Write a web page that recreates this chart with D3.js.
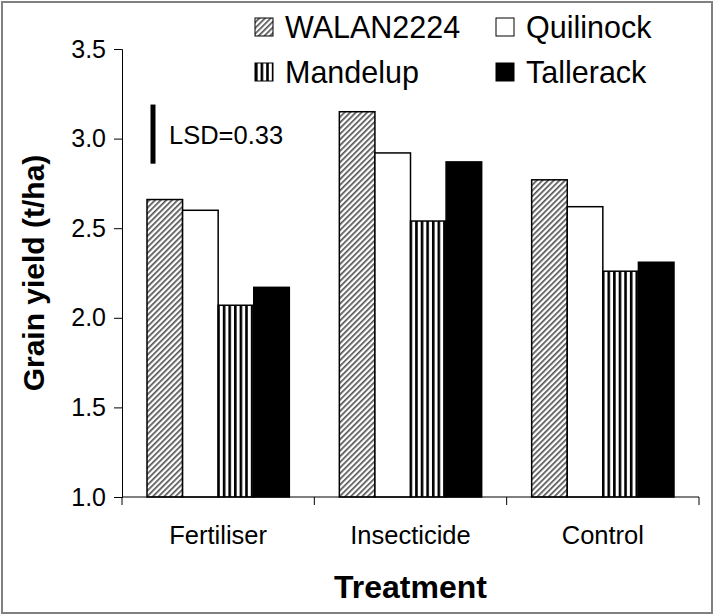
<!DOCTYPE html>
<html>
<head>
<meta charset="utf-8">
<script src="https://cdn.jsdelivr.net/npm/d3@7"></script>
<style>
  body { margin: 0; background: #fff; }
  svg { display: block; font-family: "Liberation Sans", Arial, sans-serif; }
</style>
</head>
<body>
<div id="chart"></div>
<script>
// data
const treatments = ["Fertiliser", "Insecticide", "Control"];
const varieties = ["WALAN2224", "Quilinock", "Mandelup", "Tallerack"];
const walan = [2.66, 3.15, 2.77];
const quilinock = [2.60, 2.92, 2.62];
const mandelup = [2.07, 2.54, 2.26];
const tallerack = [2.17, 2.87, 2.31];
const yTicks = [1.0, 1.5, 2.0, 2.5, 3.0, 3.5];
const lsd = 0.33;
const lsdBase = 2.86;

const seriesValues = [walan, quilinock, mandelup, tallerack];

const width = 714, height = 615;
const margin = {top: 49, right: 15, bottom: 118, left: 122};

const svg = d3.select("#chart").append("svg")
  .attr("width", width)
  .attr("height", height);

// patterns
const defs = svg.append("defs");
const hatch = defs.append("pattern")
  .attr("id", "hatch")
  .attr("patternUnits", "userSpaceOnUse")
  .attr("width", 4).attr("height", 4)
  .attr("patternTransform", "rotate(45)");
hatch.append("rect").attr("width", 4).attr("height", 4).attr("fill", "#fff");
hatch.append("rect").attr("width", 1.7).attr("height", 4).attr("fill", "#555");

const stripes = defs.append("pattern")
  .attr("id", "stripes")
  .attr("patternUnits", "userSpaceOnUse")
  .attr("width", 5.6).attr("height", 10);
stripes.append("rect").attr("width", 5.6).attr("height", 10).attr("fill", "#fff");
stripes.append("rect").attr("x", 0).attr("width", 2.6).attr("height", 10).attr("fill", "#000");

const fills = ["url(#hatch)", "#fff", "url(#stripes)", "#000"];

// frame
svg.append("rect")
  .attr("x", 2).attr("y", 2)
  .attr("width", width - 4).attr("height", height - 4)
  .attr("fill", "none")
  .attr("stroke", "#808080")
  .attr("stroke-width", 2);

const x0 = d3.scaleBand()
  .domain(treatments)
  .range([margin.left, width - margin.right]);

const x1 = d3.scaleBand()
  .domain(varieties)
  .range([x0.bandwidth() * 0.13, x0.bandwidth() * 0.87]);

const y = d3.scaleLinear()
  .domain([1.0, 3.5])
  .range([height - margin.bottom, margin.top]);

// bars
const groups = svg.append("g")
  .selectAll("g")
  .data(treatments)
  .join("g")
  .attr("transform", d => `translate(${x0(d)},0)`);

groups.selectAll("rect")
  .data((t, i) => varieties.map((v, j) => ({v, j, value: seriesValues[j][i]})))
  .join("rect")
  .attr("x", d => x1(d.v))
  .attr("width", x1.bandwidth())
  .attr("y", d => y(d.value))
  .attr("height", d => y(1.0) - y(d.value))
  .attr("fill", d => fills[d.j])
  .attr("stroke", "#000")
  .attr("stroke-width", 1.5);

// y axis
const yAxis = svg.append("g")
  .attr("transform", `translate(${margin.left},0)`)
  .call(d3.axisLeft(y).tickValues(yTicks).tickFormat(d3.format(".1f")).tickSize(8).tickPadding(8));
yAxis.select(".domain").attr("stroke", "#000").attr("stroke-width", 1);
yAxis.selectAll("text").attr("font-size", 25).attr("fill", "#000").attr("font-family", "Liberation Sans, Arial, sans-serif");

// x axis with ticks at category boundaries
const xAxis = svg.append("g")
  .attr("transform", `translate(0,${y(1.0)})`);
xAxis.append("line")
  .attr("x1", margin.left).attr("x2", width - margin.right)
  .attr("stroke", "#000");
xAxis.selectAll(".tk")
  .data(treatments.concat(["end"]))
  .join("line")
  .attr("class", "tk")
  .attr("x1", (d, i) => i < treatments.length ? x0(d) : x0.range()[1])
  .attr("x2", (d, i) => i < treatments.length ? x0(d) : x0.range()[1])
  .attr("y1", 0).attr("y2", 8)
  .attr("stroke", "#000");
xAxis.selectAll(".cat")
  .data(treatments)
  .join("text")
  .attr("class", "cat")
  .attr("x", d => x0(d) + x0.bandwidth() / 2)
  .attr("y", 47)
  .attr("text-anchor", "middle")
  .attr("font-size", 25.5)
  .text(d => d);

// axis titles
svg.append("text")
  .attr("x", x0.range()[0] + (x0.range()[1] - x0.range()[0]) / 2)
  .attr("y", 598)
  .attr("text-anchor", "middle")
  .attr("font-size", 32)
  .attr("font-weight", "bold")
  .text("Treatment");

svg.append("text")
  .attr("transform", `translate(44,${(y(1.0) + y(3.5)) / 2}) rotate(-90)`)
  .attr("text-anchor", "middle")
  .attr("font-size", 30)
  .attr("font-weight", "bold")
  .text("Grain yield (t/ha)");

// LSD bar
svg.append("line")
  .attr("x1", 153).attr("x2", 153)
  .attr("y1", y(lsdBase)).attr("y2", y(lsdBase + lsd))
  .attr("stroke", "#000")
  .attr("stroke-width", 5);
svg.append("text")
  .attr("x", 169)
  .attr("y", y(lsdBase + lsd / 2) + 10)
  .attr("font-size", 25.5)
  .text("LSD=" + lsd.toFixed(2));

// legend
const legend = svg.append("g");
const legItems = legend.selectAll("g")
  .data(varieties)
  .join("g")
  .attr("transform", (d, i) => `translate(${i % 2 === 0 ? 255 : 496},${i < 2 ? 27 : 72})`);
legItems.append("rect")
  .attr("x", 0).attr("y", -9)
  .attr("width", 18).attr("height", 18)
  .attr("fill", (d, i) => fills[i])
  .attr("stroke", "#000")
  .attr("stroke-width", 1);
legItems.append("text")
  .attr("x", 30)
  .attr("y", 11)
  .attr("font-size", 30.5)
  .text(d => d);
</script>
</body>
</html>
